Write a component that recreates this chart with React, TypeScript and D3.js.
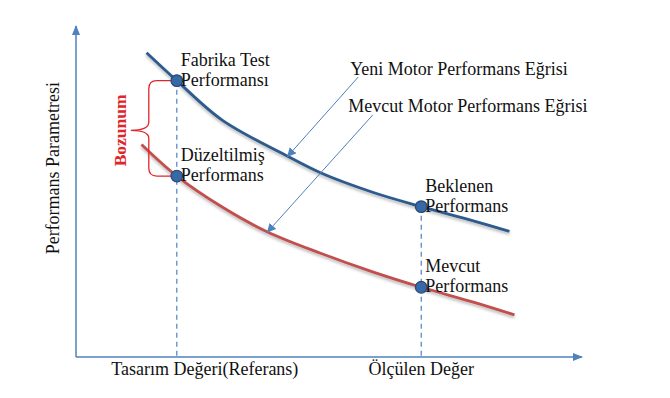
import React from "react";
import * as d3 from "d3";

// curve points in chart units (x: 0-100 along the axis, y: 0-100 up the axis)
const newCurve: [number, number][] = [
  [14, 92.5], [20, 84], [29, 72], [42, 61], [48.5, 56], [59, 50], [68.5, 45.7], [79, 41.3], [86, 38.2],
];
const currentCurve: [number, number][] = [
  [13, 64.6], [20, 55], [29, 45.6], [38, 38], [48.4, 31.6], [59, 25.8], [68.5, 21.2], [79, 16.6], [87, 12.8],
];

const designX = 20;
const measuredX = 68.5;

const markers = [
  { x: designX, y: 84, lines: ["Fabrika Test", "Performansı"] },
  { x: designX, y: 55, lines: ["Düzeltilmiş", "Performans"] },
  { x: measuredX, y: 45.7, lines: ["Beklenen", "Performans"] },
  { x: measuredX, y: 21.2, lines: ["Mevcut", "Performans"] },
];

const xTickLabels = ["Tasarım Değeri(Referans)", "Ölçülen Değer"];
const xTickValues = [designX, measuredX];

const curveLabels = [
  { label: "Yeni Motor Performans Eğrisi", at: [54.4, 85.7], from: [56, 85.1], target: [42, 61] },
  { label: "Mevcut Motor Performans Eğrisi", at: [54, 74.5], from: [58.9, 73.6], target: [38, 38] },
];

const W = 670;
const H = 398;
const axisColor = "#4f81bd";
const blue = "#2d5a8e";
const red = "#c0504d";
const font = "Liberation Serif";

export default function App() {
  const x = d3.scaleLinear().domain([0, 100]).range([76, 580]);
  const y = d3.scaleLinear().domain([0, 100]).range([357, 28]);

  const line = d3
    .line<[number, number]>()
    .x((d) => x(d[0]))
    .y((d) => y(d[1]))
    .curve(d3.curveCatmullRom.alpha(0.5));

  // brace between the two design-point markers
  const bx = x(designX);
  const yTop = y(markers[0].y);
  const yBot = y(markers[1].y);
  const yMid = (yTop + yBot) / 2 + 2;
  const spine = bx - 28;
  const tip = bx - 46;
  const r = 8;
  const brace = [
    `M${bx - 3},${yTop}`,
    `L${spine + r},${yTop}`,
    `Q${spine},${yTop} ${spine},${yTop + r}`,
    `L${spine},${yMid - r}`,
    `Q${spine},${yMid} ${tip},${yMid}`,
    `Q${spine},${yMid} ${spine},${yMid + r}`,
    `L${spine},${yBot - r}`,
    `Q${spine},${yBot} ${spine + r},${yBot}`,
    `L${bx - 3},${yBot}`,
  ].join(" ");

  const labelShift = [28, 0];

  return (
    <div style={{ position: "fixed", left: 0, top: 0 }}>
      <svg width={W} height={H} style={{ background: "#fff", display: "block" }}>
        <defs>
          <marker id="axArrow" viewBox="0 0 10 10" refX="9" refY="5" markerWidth="7" markerHeight="7" orient="auto">
            <path d="M0,1 L10,5 L0,9 z" fill={axisColor} />
          </marker>
          <marker id="ptr" viewBox="0 0 10 10" refX="9" refY="5" markerWidth="9" markerHeight="9" orient="auto" markerUnits="userSpaceOnUse">
            <path d="M0,0 L10,5 L0,10 z" fill={axisColor} />
          </marker>
          <filter id="shadow" x="-10%" y="-10%" width="120%" height="130%">
            <feGaussianBlur in="SourceAlpha" stdDeviation="1.5" />
            <feOffset dx="0" dy="2" result="b" />
            <feComponentTransfer>
              <feFuncA type="linear" slope="0.3" />
            </feComponentTransfer>
            <feMerge>
              <feMergeNode />
              <feMergeNode in="SourceGraphic" />
            </feMerge>
          </filter>
        </defs>

        {/* axes */}
        <line x1={x(0)} x2={x(0)} y1={y(0)} y2={y(100) - 2} stroke={axisColor} strokeWidth={1.5} markerEnd="url(#axArrow)" />
        <line x1={x(0)} x2={x(100) + 2} y1={y(0)} y2={y(0)} stroke={axisColor} strokeWidth={1.5} markerEnd="url(#axArrow)" />

        {/* dashed guides */}
        <line x1={x(designX)} x2={x(designX)} y1={y(markers[0].y)} y2={y(0)} stroke={axisColor} strokeWidth={1.2} strokeDasharray="5,4" />
        <line x1={x(measuredX)} x2={x(measuredX)} y1={y(markers[2].y)} y2={y(0)} stroke={axisColor} strokeWidth={1.2} strokeDasharray="5,4" />

        {/* curves */}
        <path d={line(currentCurve) || ""} fill="none" stroke={red} strokeWidth={2.8} filter="url(#shadow)" />
        <path d={line(newCurve) || ""} fill="none" stroke={blue} strokeWidth={2.8} filter="url(#shadow)" />

        {/* pointer arrows */}
        {curveLabels.map((c) => (
          <line
            key={c.label}
            x1={x(c.from[0])}
            y1={y(c.from[1])}
            x2={x(c.target[0])}
            y2={y(c.target[1])}
            stroke={axisColor}
            strokeWidth={1}
            markerEnd="url(#ptr)"
          />
        ))}
        {curveLabels.map((c) => (
          <text key={c.label + "t"} x={x(c.at[0])} y={y(c.at[1])} fontFamily={font} fontSize={18} fill="#111">
            {c.label}
          </text>
        ))}

        {/* brace */}
        <path d={brace} fill="none" stroke="#e0262a" strokeWidth={1.3} />
        <text
          transform={`translate(${tip - 5},${yMid}) rotate(-90)`}
          textAnchor="middle"
          fontFamily={font}
          fontWeight="bold"
          fontSize={17.5}
          fill="#e0262a"
        >
          Bozunum
        </text>

        {/* markers and labels */}
        {markers.map((m) => (
          <g key={m.lines.join()}>
            <circle cx={x(m.x)} cy={y(m.y)} r={5.8} fill="#3769a6" stroke="#24497a" strokeWidth={1.2} />
            {m.lines.map((t, i) => (
              <text key={t} x={x(m.x) + 4} y={y(m.y) + 5 - (m.lines.length - 1 - i) * 20} fontFamily={font} fontSize={18} fill="#111">
                {t}
              </text>
            ))}
          </g>
        ))}

        {/* x labels */}
        {xTickLabels.map((t, i) => (
          <text key={t} x={x(xTickValues[i]) + labelShift[i]} y={y(0) + 18} textAnchor="middle" fontFamily={font} fontSize={18} fill="#111">
            {t}
          </text>
        ))}

        {/* y label */}
        <text transform={`translate(${x(0) - 17},${y(57.4)}) rotate(-90)`} textAnchor="middle" fontFamily={font} fontSize={18} fill="#111">
          Performans Parametresi
        </text>
      </svg>
    </div>
  );
}
